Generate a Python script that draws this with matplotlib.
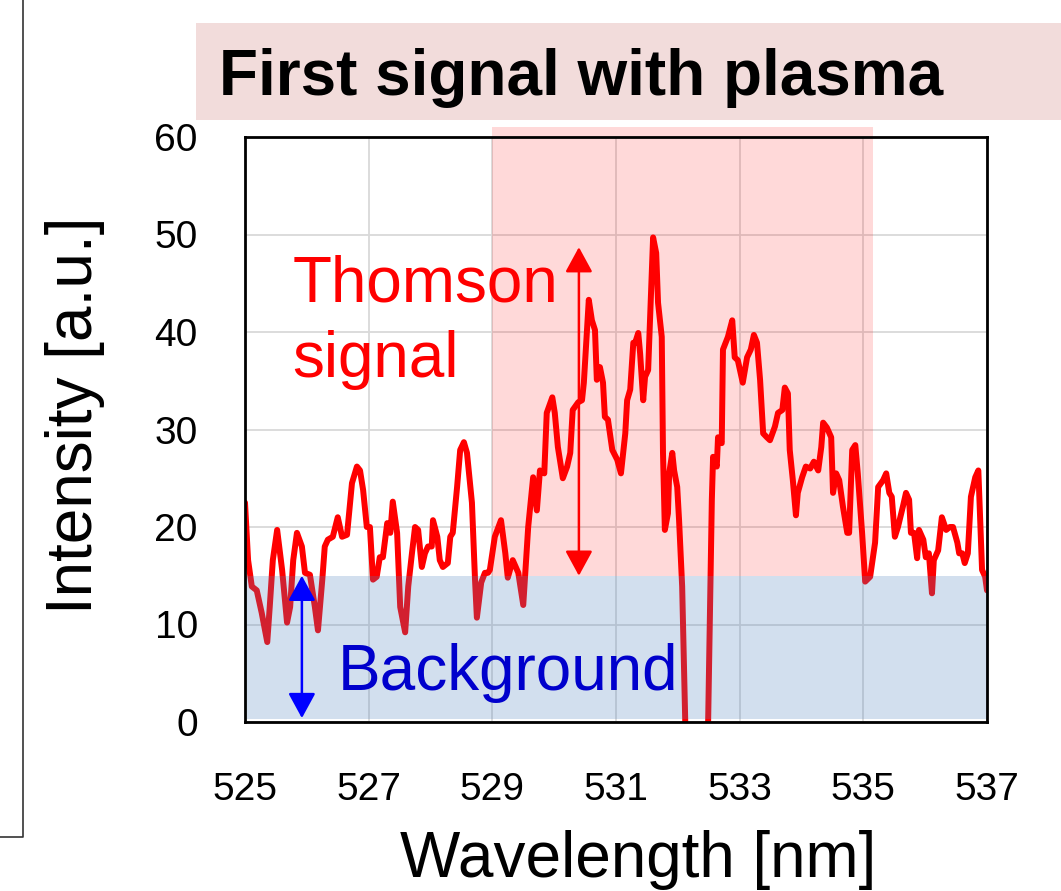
import matplotlib
matplotlib.use("Agg")
import matplotlib.pyplot as plt
from matplotlib.patches import Rectangle, FancyArrowPatch
from matplotlib.lines import Line2D

plt.rcParams['font.family'] = ['Liberation Sans', 'DejaVu Sans']

# Measured spectrum (wavelength in nm, intensity in a.u.)
wavelength = [
    525.00, 525.05, 525.11, 525.19, 525.27, 525.36, 525.40, 525.45, 525.52, 525.60,
    525.68, 525.73, 525.78, 525.84, 525.92, 525.97, 526.05, 526.13, 526.18, 526.25,
    526.29, 526.34, 526.42, 526.50, 526.57, 526.65, 526.73, 526.81, 526.86, 526.91,
    526.97, 527.02, 527.07, 527.13, 527.18, 527.23, 527.30, 527.35, 527.39, 527.46,
    527.51, 527.59, 527.64, 527.70, 527.75, 527.80, 527.86, 527.91, 527.96, 528.02,
    528.04, 528.11, 528.15, 528.20, 528.28, 528.32, 528.36, 528.43, 528.48, 528.54,
    528.59, 528.67, 528.72, 528.75, 528.82, 528.88, 528.93, 528.96, 529.04, 529.14,
    529.21, 529.25, 529.33, 529.42, 529.50, 529.58, 529.66, 529.72, 529.77, 529.84,
    529.88, 529.97, 530.01, 530.06, 530.14, 530.21, 530.26, 530.30, 530.39, 530.45,
    530.48, 530.53, 530.56, 530.61, 530.66, 530.69, 530.74, 530.79, 530.82, 530.87,
    530.94, 531.02, 531.08, 531.15, 531.18, 531.23, 531.28, 531.31, 531.36, 531.39,
    531.44, 531.47, 531.52, 531.57, 531.60, 531.65, 531.68, 531.74, 531.76, 531.79,
    531.84, 531.86, 531.91, 531.94, 531.99, 532.02, 532.07, 532.12, 532.30, 532.49,
    532.55, 532.57, 532.63, 532.65, 532.71, 532.73, 532.81, 532.88, 532.92, 532.97,
    533.05, 533.12, 533.18, 533.23, 533.28, 533.33, 533.38, 533.44, 533.49, 533.57,
    533.62, 533.69, 533.73, 533.78, 533.81, 533.86, 533.91, 533.94, 534.01, 534.07,
    534.14, 534.20, 534.27, 534.32, 534.35, 534.41, 534.48, 534.51, 534.56, 534.61,
    534.67, 534.74, 534.77, 534.82, 534.87, 534.91, 534.98, 535.03, 535.11, 535.19,
    535.24, 535.32, 535.37, 535.42, 535.46, 535.51, 535.56, 535.64, 535.69, 535.74,
    535.77, 535.82, 535.87, 535.90, 535.97, 536.01, 536.06, 536.11, 536.14, 536.21,
    536.27, 536.34, 536.40, 536.45, 536.52, 536.55, 536.60, 536.64, 536.69, 536.74,
    536.81, 536.86, 536.92, 536.97, 537.00,
]
intensity = [
    22.5, 16.6, 13.9, 13.5, 11.2, 8.2, 11.8, 16.6, 19.7, 15.6,
    10.2, 11.8, 16.6, 19.4, 18.0, 15.3, 15.1, 11.8, 9.4, 14.6,
    18.0, 18.7, 19.0, 21.0, 19.0, 19.2, 24.5, 26.2, 25.8, 23.8,
    20.0, 20.0, 14.6, 14.9, 16.9, 16.9, 20.4, 19.4, 22.6, 19.4,
    11.8, 9.2, 13.9, 17.3, 20.0, 19.7, 15.9, 17.3, 18.0, 18.0,
    20.7, 19.0, 16.6, 15.9, 16.3, 19.0, 19.4, 24.1, 27.9, 28.7,
    27.6, 22.5, 14.6, 10.7, 14.3, 15.3, 15.3, 15.6, 19.0, 20.7,
    17.3, 14.8, 16.6, 15.3, 12.0, 20.0, 25.1, 21.7, 25.8, 25.5,
    31.7, 33.3, 31.7, 28.2, 25.0, 26.2, 27.6, 32.0, 32.8, 33.0,
    34.8, 40.2, 43.3, 41.2, 40.2, 35.1, 36.4, 34.8, 31.3, 31.0,
    27.9, 26.9, 25.5, 29.6, 33.0, 34.1, 38.9, 38.9, 39.9, 37.8,
    33.0, 35.4, 36.1, 44.6, 49.7, 48.1, 43.0, 39.5, 27.6, 19.7,
    21.4, 25.5, 27.6, 25.8, 24.1, 20.7, 13.9, 0.0, -25.0, 0.0,
    22.8, 27.2, 26.2, 29.2, 28.6, 38.2, 39.5, 41.2, 37.4, 37.1,
    34.8, 37.4, 38.2, 39.7, 38.9, 35.1, 29.6, 29.2, 28.9, 30.3,
    31.7, 32.0, 34.3, 33.7, 27.9, 24.8, 21.2, 23.5, 25.1, 26.2,
    26.0, 26.7, 25.8, 28.2, 30.7, 30.2, 29.2, 23.5, 25.5, 24.8,
    22.1, 19.4, 19.4, 27.9, 28.4, 25.5, 19.4, 14.4, 14.9, 18.4,
    24.1, 24.8, 25.5, 23.5, 23.1, 19.0, 20.0, 22.1, 23.5, 22.8,
    19.4, 19.4, 16.8, 19.7, 18.7, 16.9, 17.3, 13.2, 16.6, 17.6,
    21.0, 19.7, 20.0, 20.0, 18.4, 17.3, 17.3, 16.3, 17.3, 23.1,
    25.1, 25.8, 15.6, 14.9, 13.5,
]

x_ticks = [525, 527, 529, 531, 533, 535, 537]
y_ticks = [0, 10, 20, 30, 40, 50, 60]

# Regions and annotations
background_level = 15.0
thomson_range = (529.0, 535.16)
thomson_peak = 48.7
thomson_arrow_x = 530.4
background_arrow_x = 525.92

fig = plt.figure(figsize=(10.61, 8.91), dpi=100)
ax = fig.add_axes([245 / 1061, 169 / 891, 742 / 1061, 585 / 891])

ax.set_xlim(525, 537)
ax.set_ylim(0, 60)
ax.set_xticks(x_ticks)
ax.set_yticks(y_ticks)
ax.tick_params(length=0, labelsize=28, colors='black')
ax.tick_params(axis='x', pad=36)
ax.tick_params(axis='y', pad=34)
ax.grid(True, color='#D9D9D9', linewidth=1.3, zorder=0)
ax.set_axisbelow(True)
for sp in ax.spines.values():
    sp.set_linewidth(2.0)
    sp.set_color('black')
    sp.set_zorder(10)

# Thomson window (extends slightly above the frame)
ax.add_patch(Rectangle((thomson_range[0], background_level),
                       thomson_range[1] - thomson_range[0], 61.0 - background_level,
                       facecolor='#FF0000', alpha=0.15, edgecolor='none',
                       zorder=1, clip_on=False))

ax.plot(wavelength, intensity, color='#FF0000', linewidth=4.3, zorder=3,
        solid_joinstyle='round', solid_capstyle='round')

# Background level overlay
ax.add_patch(Rectangle((525, 0.3), 12, background_level - 0.3,
                       facecolor='#4F81BD', alpha=0.25, edgecolor='none', zorder=4))

ax.add_patch(FancyArrowPatch((thomson_arrow_x, background_level),
                             (thomson_arrow_x, thomson_peak),
                             arrowstyle='<|-|>,head_length=0.55,head_width=0.3',
                             mutation_scale=28, color='#FF0000', linewidth=1.8,
                             shrinkA=0, shrinkB=0, zorder=5))
ax.add_patch(FancyArrowPatch((background_arrow_x, 0.4),
                             (background_arrow_x, background_level),
                             arrowstyle='<|-|>,head_length=0.55,head_width=0.3',
                             mutation_scale=28, color='#0000FF', linewidth=1.8,
                             shrinkA=0, shrinkB=0, zorder=5))

ax.text(525.77, 43.1, 'Thomson', color='#FF0000', fontsize=46, zorder=6,
        ha='left', va='baseline')
ax.text(525.77, 35.4, 'signal', color='#FF0000', fontsize=46, zorder=6,
        ha='left', va='baseline')
ax.text(526.5, 3.3, 'Background', color='#0000CC', fontsize=46, zorder=6,
        ha='left', va='baseline')

fig.text(75 / 1061, 1 - 415 / 891, 'Intensity [a.u.]', rotation=90,
         fontsize=46, ha='center', va='center')
fig.text(638 / 1061, 1 - 877 / 891, 'Wavelength [nm]', fontsize=46,
         ha='center', va='baseline')

# Title banner
fig.patches.append(Rectangle((196 / 1061, 1 - 120 / 891), 1 - 196 / 1061, 97 / 891,
                             transform=fig.transFigure, facecolor='#F2DCDB',
                             edgecolor='none', zorder=0))
fig.text(219 / 1061, 1 - 95 / 891, 'First signal with plasma', fontsize=46,
         fontweight='bold', ha='left', va='baseline')

# Edge of the neighbouring panel
fig.lines.append(Line2D([23 / 1061, 23 / 1061, 0], [1.0, 1 - 837 / 891, 1 - 837 / 891],
                        transform=fig.transFigure, color='#333333', linewidth=1.2))

fig.savefig('out.png', dpi=100)
